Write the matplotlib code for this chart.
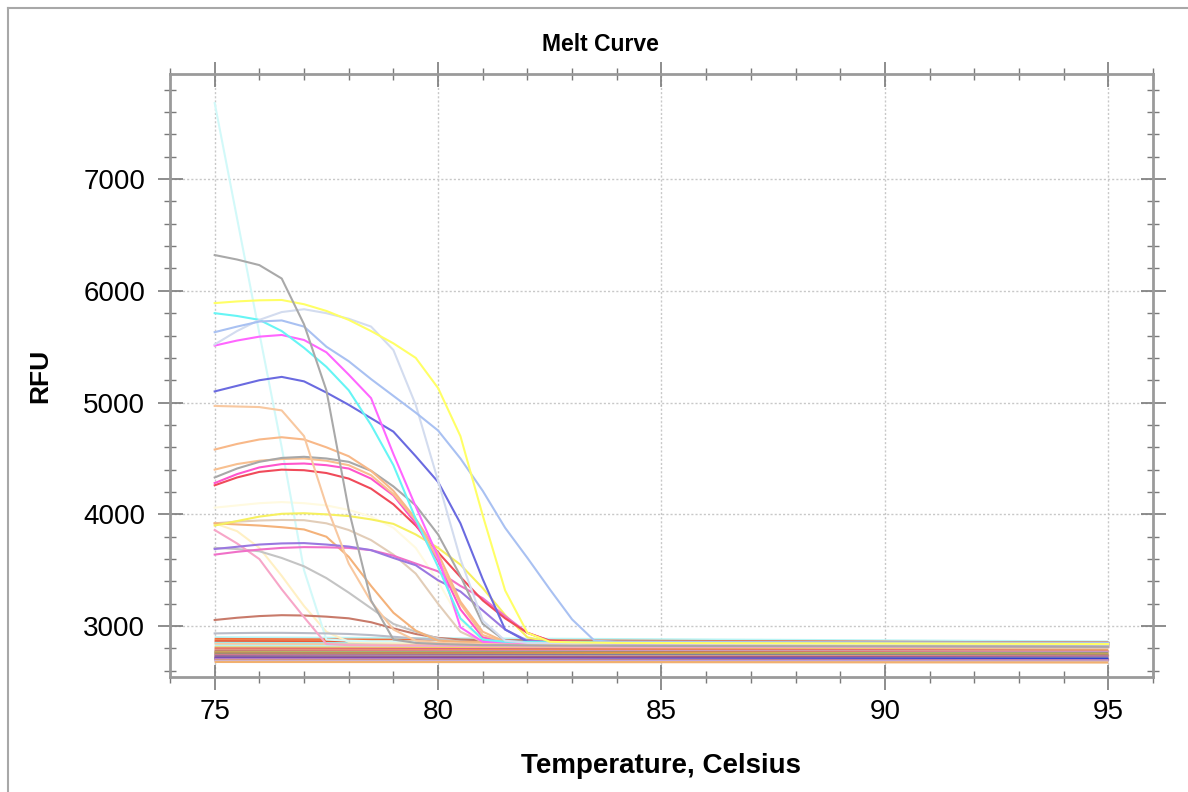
import matplotlib
matplotlib.use("Agg")
import matplotlib.pyplot as plt
from matplotlib.ticker import MultipleLocator
from matplotlib.lines import Line2D

# temperature grid the melt curves were read on
temps = [75, 75.5, 76, 76.5, 77, 77.5, 78, 78.5, 79, 79.5, 80, 80.5, 81, 81.5,
         82, 82.5, 83, 83.5, 84, 86, 90, 95]

# melting wells (RFU at each grid temperature)
cyan_spike = [7680, 6650, 5620, 4600, 3500, 2880, 2870, 2865, 2865, 2862, 2860, 2860,
              2858, 2858, 2856, 2856, 2855, 2855, 2855, 2852, 2850, 2845]
gray_drop = [6320, 6280, 6230, 6110, 5700, 5110, 4040, 3230, 2880, 2850, 2840, 2835,
             2830, 2830, 2828, 2826, 2825, 2825, 2824, 2822, 2820, 2815]
yellow_hi = [5890, 5905, 5915, 5918, 5880, 5820, 5740, 5640, 5530, 5400, 5130, 4700,
             3990, 3320, 2940, 2860, 2855, 2852, 2850, 2848, 2845, 2840]
blue_light = [5630, 5680, 5725, 5735, 5680, 5500, 5370, 5210, 5060, 4910, 4750, 4500,
              4210, 3880, 3610, 3330, 3060, 2870, 2860, 2858, 2855, 2850]
blue_faint = [5520, 5640, 5740, 5810, 5835, 5800, 5750, 5680, 5470, 4980, 4300, 3600,
              3050, 2870, 2850, 2848, 2846, 2845, 2845, 2843, 2840, 2835]
cyan_main = [5800, 5775, 5740, 5640, 5490, 5320, 5110, 4800, 4440, 3960, 3530, 3070,
             2880, 2860, 2858, 2856, 2855, 2855, 2854, 2852, 2850, 2848]
magenta = [5510, 5555, 5590, 5605, 5560, 5450, 5250, 5040, 4540, 4070, 3620, 2990,
           2860, 2855, 2852, 2850, 2850, 2848, 2848, 2846, 2844, 2840]
dark_blue = [5100, 5150, 5200, 5230, 5190, 5090, 4980, 4860, 4740, 4520, 4290, 3920,
             3420, 2970, 2860, 2852, 2850, 2848, 2846, 2844, 2840, 2835]
orange_plateau = [4970, 4965, 4960, 4930, 4700, 4080, 3560, 3220, 2970, 2870, 2850, 2845,
                  2842, 2840, 2838, 2836, 2835, 2834, 2833, 2830, 2828, 2825]
orange_4680 = [4580, 4630, 4670, 4690, 4670, 4600, 4520, 4390, 4210, 3960, 3650, 3220,
               2950, 2860, 2855, 2852, 2850, 2850, 2848, 2846, 2844, 2840]
gray_4500 = [4330, 4410, 4470, 4505, 4515, 4500, 4470, 4390, 4250, 4080, 3820, 3450,
             3020, 2870, 2860, 2856, 2855, 2854, 2852, 2850, 2848, 2845]
orange_4500 = [4400, 4450, 4480, 4495, 4500, 4480, 4440, 4350, 4180, 3950, 3600, 3200,
               2920, 2860, 2856, 2854, 2852, 2850, 2850, 2848, 2846, 2842]
pink_4450 = [4280, 4360, 4420, 4450, 4455, 4440, 4410, 4320, 4170, 3920, 3580, 3150,
             2900, 2860, 2855, 2852, 2850, 2848, 2848, 2846, 2842, 2838]
red_4400 = [4260, 4330, 4380, 4400, 4395, 4370, 4320, 4230, 4090, 3900, 3660, 3440,
            3230, 3070, 2940, 2870, 2860, 2858, 2856, 2854, 2850, 2846]
yellow_4000 = [3900, 3940, 3980, 4005, 4010, 4000, 3985, 3955, 3915, 3820, 3700, 3550,
               3340, 3100, 2900, 2860, 2856, 2854, 2852, 2850, 2848, 2844]
orange_3900 = [3920, 3910, 3900, 3885, 3865, 3800, 3620, 3360, 3120, 2960, 2870, 2860,
               2856, 2854, 2852, 2850, 2850, 2848, 2848, 2846, 2844, 2840]
tan_3950 = [3920, 3935, 3945, 3950, 3948, 3920, 3860, 3770, 3640, 3470, 3200, 2950,
            2860, 2855, 2852, 2850, 2850, 2848, 2848, 2846, 2844, 2840]
violet_3740 = [3690, 3710, 3730, 3740, 3743, 3730, 3712, 3680, 3610, 3545, 3410, 3310,
               3140, 2970, 2870, 2860, 2856, 2854, 2852, 2850, 2846, 2842]
pink_3700 = [3640, 3665, 3685, 3700, 3707, 3705, 3700, 3680, 3630, 3560, 3490, 3360,
             3250, 3090, 2940, 2870, 2860, 2856, 2854, 2852, 2848, 2844]
pink_steep = [3860, 3740, 3600, 3330, 3080, 2840, 2830, 2828, 2826, 2825, 2824, 2822,
              2820, 2820, 2818, 2818, 2816, 2816, 2815, 2814, 2812, 2810]
gray_3700 = [3700, 3690, 3670, 3610, 3535, 3430, 3300, 3160, 3020, 2950, 2890, 2860,
             2855, 2852, 2850, 2850, 2848, 2848, 2846, 2845, 2842, 2838]
pale_yellow = [3920, 3850, 3700, 3450, 3180, 2950, 2860, 2855, 2852, 2850, 2850, 2848,
               2848, 2846, 2846, 2845, 2844, 2844, 2843, 2842, 2840, 2836]
faint_yellow = [4060, 4080, 4100, 4110, 4100, 4080, 4040, 3980, 3880, 3700, 3400, 3050,
                2870, 2858, 2855, 2852, 2850, 2850, 2848, 2846, 2844, 2840]
brown_3080 = [3055, 3075, 3090, 3098, 3095, 3085, 3070, 3035, 2980, 2930, 2895, 2880,
              2875, 2872, 2870, 2868, 2866, 2865, 2864, 2862, 2858, 2852]
gray_2935 = [2935, 2938, 2940, 2940, 2938, 2935, 2930, 2920, 2905, 2890, 2880, 2875,
             2872, 2870, 2868, 2866, 2865, 2864, 2862, 2860, 2856, 2850]

melt_curves = [faint_yellow, pale_yellow, cyan_spike, gray_2935, brown_3080, gray_3700,
               pink_steep, tan_3950, orange_3900, yellow_4000, pink_3700, violet_3740,
               red_4400, pink_4450, orange_4500, gray_4500, orange_4680, orange_plateau,
               dark_blue, magenta, cyan_main, blue_faint, blue_light, yellow_hi, gray_drop]
melt_colors = ["#fffae0", "#fff0c4", "#d2f9f9", "#b8bcc8", "#c87a6a", "#c4c4c4",
               "#f7a6c8", "#e2cdb8", "#f4b27a", "#f6f060", "#f070c8", "#9a78e0",
               "#f04a5a", "#ff55cc", "#f8c090", "#a8a8a8", "#f8b888", "#f8c8a0",
               "#6a6ae0", "#ff66ff", "#66f5f5", "#d3dcef", "#a9c1f2", "#ffff66", "#a9a9a9"]

# non-melting wells: RFU at 75, 85 and 95 C
base_temps = [75, 85, 95]
base_75 = [2900, 2885, 2870, 2865, 2850, 2840, 2825, 2810, 2800, 2790, 2780, 2775,
           2770, 2765, 2760, 2755, 2750, 2745, 2740, 2735, 2730, 2725, 2720, 2715,
           2712, 2708, 2705, 2700, 2695, 2690, 2685, 2680]
base_85 = [2882, 2868, 2860, 2852, 2840, 2828, 2812, 2800, 2790, 2782, 2775, 2768,
           2762, 2758, 2752, 2750, 2745, 2740, 2735, 2730, 2725, 2720, 2716, 2710,
           2706, 2706, 2700, 2695, 2692, 2688, 2682, 2678]
base_95 = [2862, 2852, 2850, 2840, 2830, 2815, 2800, 2790, 2780, 2775, 2770, 2760,
           2755, 2750, 2745, 2745, 2740, 2735, 2730, 2725, 2720, 2715, 2712, 2705,
           2700, 2705, 2695, 2690, 2688, 2685, 2680, 2675]
base_colors = ["#b8f4f4", "#f07040", "#f5a060", "#e85a3a", "#a0e8e8", "#f8c8a0",
               "#b8f0f0", "#f0d060", "#e06080", "#f09050", "#c0a0e0", "#f06040",
               "#60c0a0", "#f0b040", "#e04060", "#a0d060", "#f08040", "#40a0b0",
               "#d05090", "#f0c080", "#7060d0", "#e05030", "#5080e0", "#c03060",
               "#9060c0", "#3040d0", "#e0a0c0", "#8050d0", "#f0a050", "#b090e0",
               "#d0c0e0", "#f0b070"]

plt.rcParams["font.family"] = ["Liberation Sans", "DejaVu Sans"]

fig = plt.figure(figsize=(11.88, 7.92), dpi=100)
ax = fig.add_axes([0.1431, 0.1452, 0.8274, 0.7614])

for y0, y1, y2, c in zip(base_75, base_85, base_95, base_colors):
    ax.plot(base_temps, [y0, y1, y2], color=c, lw=1.6, solid_capstyle="butt")

for vals, c in zip(melt_curves, melt_colors):
    ax.plot(temps, vals, color=c, lw=1.5)

ax.set_xlim(74, 96)
ax.set_ylim(2545, 7940)
ax.xaxis.set_minor_locator(MultipleLocator(1))
ax.yaxis.set_minor_locator(MultipleLocator(200))
ax.set_yticks([3000, 4000, 5000, 6000, 7000])
ax.set_xticks([75, 80, 85, 90, 95])

ax.grid(True, which="major", color="#c8c8c8", linestyle=(0, (1.5, 1.5)), lw=1.0)
ax.set_axisbelow(True)

for sp in ax.spines.values():
    sp.set_color("#9a9a9a")
    sp.set_linewidth(2.0)

ax.tick_params(which="both", direction="inout", color="#7a7a7a", top=True, right=True,
               labeltop=False, labelright=False)
ax.tick_params(which="major", length=18, width=1.2, labelsize=20)
ax.tick_params(axis="y", which="major", pad=9)
ax.tick_params(axis="x", which="major", pad=7)
ax.tick_params(which="minor", length=9, width=1.0)

ax.set_xlabel("Temperature, Celsius", fontsize=20, fontweight="bold", labelpad=20)
ax.set_ylabel("RFU", fontsize=19, fontweight="bold", labelpad=22)
fig.text(0.505, 0.944, "Melt Curve", ha="center", va="center", fontsize=16.5,
         fontweight="bold")

# page border visible at the top and left of the capture
fig.add_artist(Line2D([8 / 1188, 8 / 1188], [0, 1 - 8 / 792], transform=fig.transFigure,
                      color="#a8a8a8", lw=1.5))
fig.add_artist(Line2D([8 / 1188, 1], [1 - 8 / 792, 1 - 8 / 792], transform=fig.transFigure,
                      color="#a8a8a8", lw=1.5))

fig.savefig("out.png", dpi=100)
